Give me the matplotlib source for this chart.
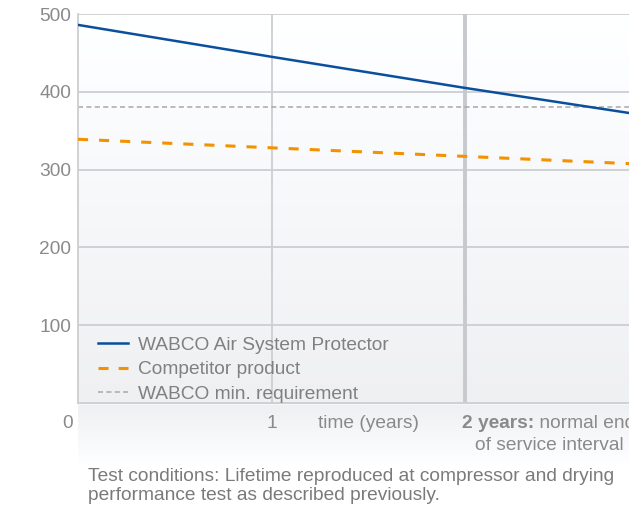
import numpy as np
import matplotlib
matplotlib.use("Agg")
import matplotlib.pyplot as plt
from matplotlib.lines import Line2D

plt.rcParams['font.family'] = ['Liberation Sans', 'DejaVu Sans']

# data
years = [0, 1, 2, 3]
wabco = [486, 445, 405, 367]
competitor = [339, 328, 317, 306]
min_req = 380
y_ticks = [100, 200, 300, 400, 500]
legend_labels = ['WABCO Air System Protector', 'Competitor product', 'WABCO min. requirement']

W, H = 629, 508
FS = 13.8
fig = plt.figure(figsize=(W / 100, H / 100), dpi=100)

# background gradient (white -> light grey -> white under the axis)
bg = fig.add_axes([78 / W, 1 - 470 / H, 1 - 78 / W, (470 - 14) / H], zorder=0)
rows = np.linspace(14, 470, 400)
shade = np.where(rows <= 403, (rows - 14) / (403 - 14), 1 - (rows - 406) / (468 - 406))
shade = np.where((rows > 403) & (rows < 406), 0.6, shade)
shade = np.clip(shade, 0, 1)
grey = 1 - 0.062 * shade
img = np.stack([grey, grey + 0.003, grey + 0.008], axis=-1)[:, None, :].repeat(2, axis=1)
bg.imshow(np.clip(img, 0, 1), aspect='auto', extent=[0, 1, 0, 1])
bg.axis('off')

ax = fig.add_axes([78 / W, 1 - 403 / H, 1 - 78 / W, (403 - 14) / H], zorder=1)
ax.patch.set_alpha(0)
xmax = (W - 78) / 193.5
ax.set_xlim(0, xmax)
ax.set_ylim(0, 500)

gc = '#cdced2'
for v in y_ticks:
    ax.axhline(v, color=gc, lw=1.3, zorder=1)
ax.axvline(1, color=gc, lw=1.3, zorder=1)
ax.axvline(2, color='#c8c9cd', lw=2.8, zorder=1)

ax.plot(years, wabco, color='#0a4f9e', lw=1.8, zorder=3)
ax.plot(years, competitor, color='#f39200', lw=2.2, dashes=(3.3, 3.6), zorder=3)
ax.axhline(min_req, color='#a8a8a8', lw=1.1, dashes=(3.3, 2.2), zorder=2)

for s in ['top', 'right']:
    ax.spines[s].set_visible(False)
ax.spines['left'].set_color(gc)
ax.spines['left'].set_linewidth(1.3)
ax.spines['bottom'].set_color(gc)
ax.spines['bottom'].set_linewidth(1.3)
ax.set_xticks([])
ax.set_yticks(y_ticks)
ax.set_yticklabels([str(v) for v in y_ticks], color='#8a8a8a', fontsize=FS)
ax.tick_params(axis='y', length=0, pad=5)

tc = '#8a8a8a'
r1, r2 = 1 - 423 / H, 1 - 445 / H
fig.text(73 / W, r1, '0', color=tc, fontsize=FS, ha='right', va='center')
fig.text(272 / W, r1, '1', color=tc, fontsize=FS, ha='center', va='center')
fig.text(368 / W, r1, 'time (years)', color=tc, fontsize=FS, ha='center', va='center')
t_bold = fig.text(462 / W, r1, '2 years:', color=tc, fontsize=FS, ha='left',
                  va='center', fontweight='bold')
fig.canvas.draw()
x1 = t_bold.get_window_extent().x1
fig.text(x1 / W, r1, ' normal end', color=tc, fontsize=FS, ha='left', va='center')
fig.text(549 / W, r2, 'of service interval', color=tc, fontsize=FS, ha='center',
         va='center')
fig.text(88 / W, 1 - 486 / H,
         'Test conditions: Lifetime reproduced at compressor and drying\n'
         'performance test as described previously.',
         color='#7a7a7a', fontsize=FS, ha='left', va='center', linespacing=1.15)

handles = [Line2D([], [], color='#0a4f9e', lw=1.8),
           Line2D([], [], color='#f39200', lw=2.2, dashes=(3.3, 3.3)),
           Line2D([], [], color='#a8a8a8', lw=1.1, dashes=(3.3, 2.2))]
leg = ax.legend(handles, legend_labels, loc='lower left', bbox_to_anchor=(20 / 551, 0.0),
                frameon=False, fontsize=FS, labelcolor='#808080', handlelength=1.56,
                handletextpad=0.52, labelspacing=0.37, borderpad=0, borderaxespad=0)

fig.savefig('out.png', dpi=100)
